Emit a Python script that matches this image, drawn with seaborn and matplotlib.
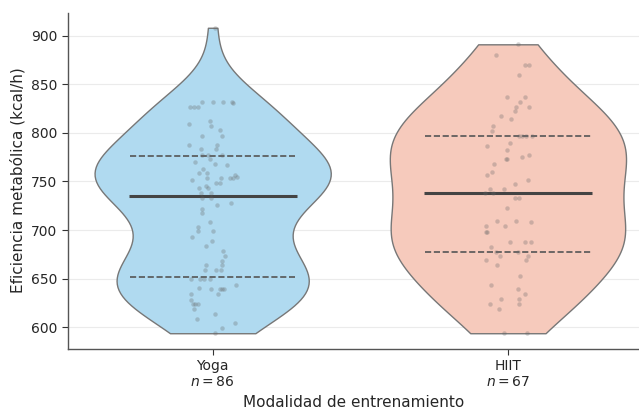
import numpy as np
import pandas as pd
import matplotlib
matplotlib.use("Agg")
import matplotlib.pyplot as plt
import seaborn as sns

categories = ["Yoga", "HIIT"]
yoga = [908, 832, 832, 832, 832, 831, 827, 827, 827, 812, 809, 807, 803, 797, 797,
        787, 787, 783, 783, 777, 777, 777, 773, 770, 768, 767, 763, 759, 759, 757,
        755, 754, 754, 754, 754, 752, 748, 748, 745, 743, 743, 738, 738, 733, 733,
        728, 726, 722, 718, 708, 703, 699, 699, 693, 689, 684, 679, 673, 668, 664,
        664, 659, 659, 659, 650, 650, 650, 650, 644, 641, 639, 639, 639, 639, 634,
        634, 628, 624, 624, 624, 619, 614, 609, 604, 599, 594]
hiit = [891, 880, 870, 870, 859, 837, 837, 832, 827, 827, 822, 817, 814, 807, 802,
        797, 797, 797, 797, 790, 786, 782, 777, 775, 773, 773, 768, 760, 757, 752,
        747, 742, 742, 738, 738, 733, 733, 723, 709, 709, 708, 704, 704, 698, 698,
        688, 688, 688, 683, 677, 677, 673, 673, 669, 669, 664, 653, 644, 639, 634,
        629, 629, 624, 624, 619, 594, 594]
colors = ["#b0daf0", "#f6cabc"]

df = pd.DataFrame({
    "Modalidad": ["Yoga"] * len(yoga) + ["HIIT"] * len(hiit),
    "Valor": yoga + hiit,
})

sns.set_style("white")
fig = plt.figure(figsize=(6.39, 4.09), dpi=100)
ax = fig.add_axes([68 / 639, (409 - 348.5) / 409, (639 - 68) / 639, (348.5 - 12.5) / 409])

sns.violinplot(data=df, x="Modalidad", y="Valor", hue="Modalidad", order=categories,
               hue_order=categories, palette=colors, saturation=1, cut=0, inner=None,
               width=0.8, density_norm="width", linewidth=1, linecolor="#777777",
               legend=False, ax=ax)

for i, vals in enumerate([yoga, hiit]):
    q1, med, q3 = np.percentile(vals, [25, 50, 75])
    ax.hlines([q1, q3], i - 0.28, i + 0.28, colors="#555555", linestyles="--",
              linewidth=1.2, zorder=3)
    ax.hlines(med, i - 0.285, i + 0.285, colors="#444444", linewidth=2.2, zorder=3)

np.random.seed(3)
sns.stripplot(data=df, x="Modalidad", y="Valor", order=categories, color="#666666",
              alpha=0.3, size=3.2, jitter=0.085, ax=ax, zorder=4)

ax.set_xlim(-0.49, 1.444)
ax.set_yticks([600, 650, 700, 750, 800, 850, 900])
ax.yaxis.grid(True, color="#ebebeb", linewidth=0.8)
ax.set_axisbelow(True)
ax.set_xticks([0, 1])
ax.set_xticklabels([f"Yoga\n$n = {len(yoga)}$", f"HIIT\n$n = {len(hiit)}$"], fontsize=10)
ax.tick_params(axis="y", labelsize=10, length=4, color="#333333", left=True)
ax.tick_params(axis="x", length=4, color="#333333", bottom=True)
ax.set_xlabel("Modalidad de entrenamiento", fontsize=11)
ax.set_ylabel("Eficiencia metabólica (kcal/h)", fontsize=11)
for s in ["top", "right"]:
    ax.spines[s].set_visible(False)
for s in ["left", "bottom"]:
    ax.spines[s].set_color("#555555")
    ax.spines[s].set_linewidth(1)

fig.savefig("out.png", dpi=100)
